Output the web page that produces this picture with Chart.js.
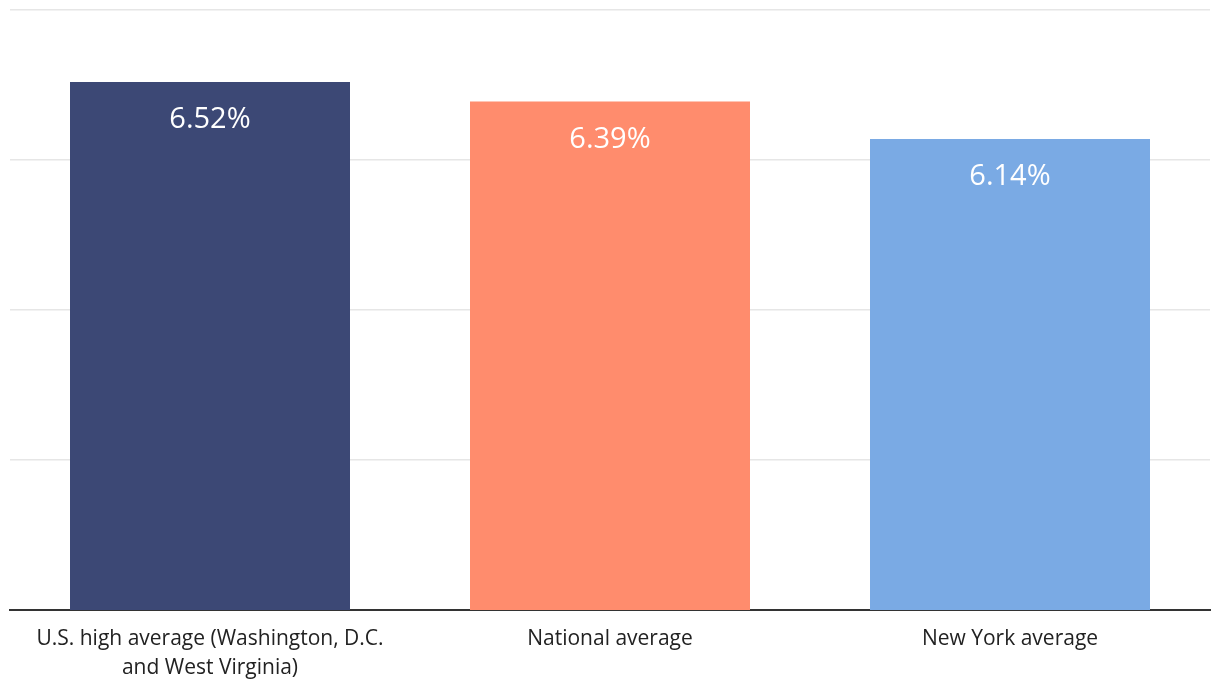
<!DOCTYPE html>
<html>
<head>
<meta charset="utf-8">
<script src="https://cdn.jsdelivr.net/npm/chart.js@4"></script>
<style>
  html, body { margin: 0; padding: 0; background: #fff; }
  #wrap { width: 1220px; height: 696px; }
</style>
</head>
<body>
<div id="wrap"><canvas id="c"></canvas></div>
<script>
const categories = [
  ['U.S. high average (Washington, D.C.', 'and West Virginia)'],
  'National average',
  'New York average'
];
const rates = [6.52, 6.39, 6.14];
const barColors = ['#3c4875', '#ff8c6d', '#7aaae4'];
const yTicks = [3, 4, 5, 6, 7];

// 柱内数值标签
const valueLabels = {
  id: 'valueLabels',
  afterDatasetsDraw(chart) {
    const ctx = chart.ctx;
    const meta = chart.getDatasetMeta(0);
    ctx.save();
    ctx.fillStyle = '#ffffff';
    ctx.font = '29px "Open Sans"';
    ctx.textAlign = 'center';
    ctx.textBaseline = 'middle';
    meta.data.forEach((bar, i) => {
      ctx.fillText(rates[i].toFixed(2) + '%', bar.x, bar.y + 38);
    });
    ctx.restore();
  }
};

new Chart(document.getElementById('c'), {
  type: 'bar',
  data: {
    labels: categories,
    datasets: [{
      data: rates,
      backgroundColor: barColors,
      barPercentage: 0.7,
      categoryPercentage: 1
    }]
  },
  options: {
    responsive: true,
    maintainAspectRatio: false,
    animation: false,
    layout: { padding: { left: 10, right: 10, top: 10, bottom: 0 } },
    plugins: {
      legend: { display: false },
      tooltip: { enabled: false }
    },
    scales: {
      y: {
        min: yTicks[0],
        max: yTicks[yTicks.length - 1],
        ticks: { display: false, stepSize: 1 },
        border: { display: false },
        grid: { color: '#e6e6e6', lineWidth: 1.5, drawTicks: false },
        afterFit: s => { s.width = 0; }
      },
      x: {
        grid: { display: false },
        border: { color: '#333333', width: 2 },
        ticks: {
          color: '#222222',
          padding: 6,
          font: { family: 'Open Sans', size: 21, lineHeight: 1.4 },
          maxRotation: 0,
          autoSkip: false
        },
        afterFit: s => { s.height = 86; }
      }
    }
  },
  plugins: [valueLabels]
});
</script>
</body>
</html>
